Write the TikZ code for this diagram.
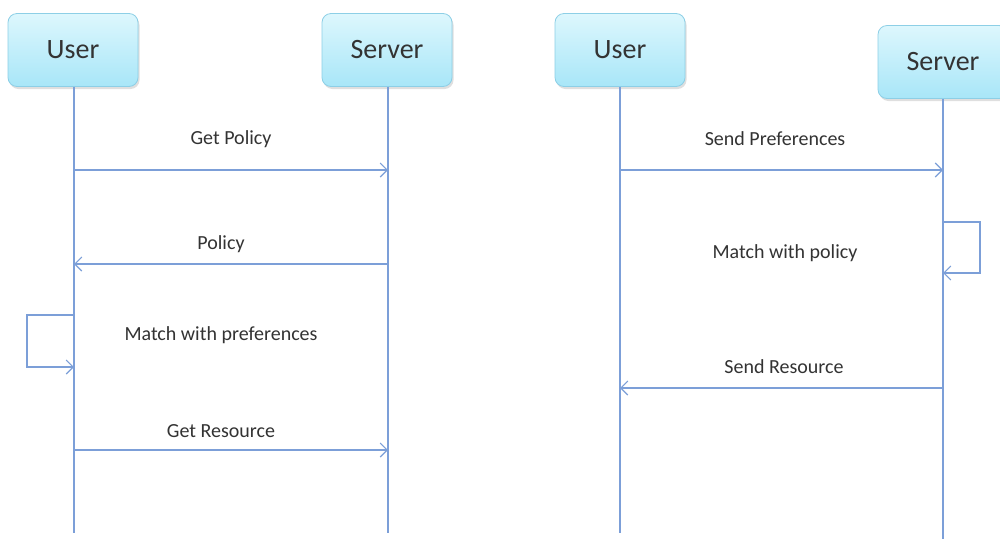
\documentclass[tikz,border=0pt]{standalone}
\usepackage{fontspec}
\setmainfont{Carlito}
\usetikzlibrary{arrows.meta,shadows}
\definecolor{LifeBlue}{HTML}{7C9FD8}
\definecolor{BoxTop}{HTML}{DDF7FD}
\definecolor{BoxBottom}{HTML}{A8E6F8}
\definecolor{BoxEdge}{HTML}{8DCFE6}
\definecolor{TextGray}{HTML}{333333}

\tikzset{
  actor/.style={rounded corners=9pt, draw=BoxEdge, line width=0.8pt,
    top color=BoxTop, bottom color=BoxBottom, minimum width=130pt,
    minimum height=73pt, font=\fontsize{28}{30}\selectfont, text=TextGray,
    drop shadow={shadow xshift=1.5pt, shadow yshift=-2.5pt, opacity=0.25}},
  lifeline/.style={LifeBlue, line width=1.1pt},
  msg/.style={->, LifeBlue, line width=1.1pt},
  msglabel/.style={font=\fontsize{20}{22}\selectfont, text=TextGray}
}

\begin{document}
\begin{tikzpicture}[x=1pt, y=-1pt, >={Straight Barb[length=7pt,width=14pt]}]
    \useasboundingbox (0,0) rectangle (1000,539);
    \clip (0,0) rectangle (1000,539);
    \fill[white] (0,0) rectangle (1000,539);

    % first exchange: user asks for the policy
    \node[actor] (user1) at (73,50) {User};
    \node[actor] (server1) at (387,50) {Server};
    \coordinate (user1end) at (74,533);
    \coordinate (server1end) at (388,533);
    \draw[lifeline] (user1.south -| user1end) -- (user1end);
    \draw[lifeline] (server1.south -| server1end) -- (server1end);

    \draw[msg] (user1end |- 0,170) -- (server1end |- 0,170);
    \node[msglabel] (getpol) at (231,139) {Get Policy};
    \draw[msg] (server1end |- 0,264) -- (user1end |- 0,264);
    \node[msglabel] (pol) at (221,244) {Policy};
    \draw[msg] (user1end |- 0,315) -| (27,341) |- (user1end |- 0,367);
    \node[msglabel] (matchpref) at (221,335) {Match with preferences};
    \draw[msg] (user1end |- 0,450) -- (server1end |- 0,450);
    \node[msglabel] (getres) at (221,431) {Get Resource};

    % second exchange: user sends preferences
    \node[actor] (user2) at (620,50) {User};
    \node[actor] (server2) at (943,62) {Server};
    \coordinate (user2end) at (620,533);
    \coordinate (server2end) at (943,539);
    \draw[lifeline] (user2.south) -- (user2end);
    \draw[lifeline] (server2.south) -- (server2end);

    \draw[msg] (user2end |- 0,170) -- (server2end |- 0,170);
    \node[msglabel] (sendpref) at (775,139) {Send Preferences};
    \draw[msg] (server2end |- 0,222) -| (980,248) |- (server2end |- 0,273);
    \node[msglabel] (matchpol) at (785,253) {Match with policy};
    \draw[msg] (server2end |- 0,388) -- (user2end |- 0,388);
    \node[msglabel] (sendres) at (784,367) {Send Resource};
  \end{tikzpicture}
\end{document}
